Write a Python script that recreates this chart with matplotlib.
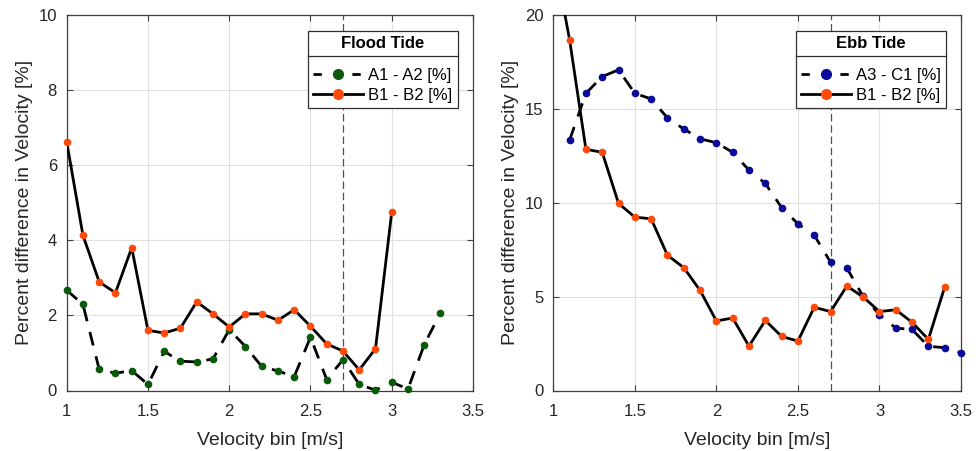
import numpy as np
import matplotlib
matplotlib.use("Agg")
import matplotlib.pyplot as plt
from matplotlib.lines import Line2D

plt.rcParams["font.family"] = ["Liberation Sans", "DejaVu Sans"]

# ---- data ----
flood_x_b = [1.0, 1.1, 1.2, 1.3, 1.4, 1.5, 1.6, 1.7, 1.8, 1.9, 2.0,
             2.1, 2.2, 2.3, 2.4, 2.5, 2.6, 2.7, 2.8, 2.9, 3.0]
flood_b1_b2 = [6.62, 4.13, 2.89, 2.60, 3.80, 1.60, 1.53, 1.66, 2.36, 2.04, 1.69,
               2.04, 2.04, 1.87, 2.15, 1.71, 1.24, 1.05, 0.55, 1.11, 4.75]

flood_x_a = [1.0, 1.1, 1.2, 1.3, 1.4, 1.5, 1.6, 1.7, 1.8, 1.9, 2.0, 2.1,
             2.2, 2.3, 2.4, 2.5, 2.6, 2.7, 2.8, 2.9, 3.0, 3.1, 3.2, 3.3]
flood_a1_a2 = [2.67, 2.29, 0.56, 0.46, 0.53, 0.16, 1.04, 0.78, 0.76, 0.84, 1.62, 1.17,
               0.64, 0.52, 0.37, 1.42, 0.29, 0.82, 0.16, 0.01, 0.22, 0.04, 1.22, 2.07]

ebb_x_b = [1.0, 1.1, 1.2, 1.3, 1.4, 1.5, 1.6, 1.7, 1.8, 1.9, 2.0, 2.1,
           2.2, 2.3, 2.4, 2.5, 2.6, 2.7, 2.8, 2.9, 3.0, 3.1, 3.2, 3.3, 3.4]
ebb_b1_b2 = [23.3, 18.67, 12.84, 12.68, 9.96, 9.23, 9.14, 7.20, 6.54, 5.33, 3.70, 3.86,
             2.36, 3.73, 2.88, 2.63, 4.43, 4.20, 5.56, 4.98, 4.20, 4.30, 3.63, 2.72, 5.51]

ebb_x_a = [1.1, 1.2, 1.3, 1.4, 1.5, 1.6, 1.7, 1.8, 1.9, 2.0, 2.1, 2.2, 2.3,
           2.4, 2.5, 2.6, 2.7, 2.8, 2.9, 3.0, 3.1, 3.2, 3.3, 3.4, 3.5]
ebb_a3_c1 = [13.33, 15.82, 16.71, 17.07, 15.82, 15.52, 14.51, 13.92, 13.40, 13.19, 12.68, 11.73, 11.02,
             9.74, 8.87, 8.27, 6.83, 6.52, 5.01, 4.04, 3.32, 3.25, 2.35, 2.28, 2.01]

threshold = 2.7

RED = "#ff4a0a"
GREEN = "#0a5a0a"
BLUE = "#0a0a9a"
AXC = "#404040"
TXT = "#262626"

fig = plt.figure(figsize=(9.76, 4.51), dpi=100)
axL = fig.add_axes([66.7 / 976, 60.5 / 451, 406.3 / 976, 375.7 / 451])
axR = fig.add_axes([553.3 / 976, 60.5 / 451, 407.7 / 976, 375.7 / 451])

panels = [
    (axL, flood_x_a, flood_a1_a2, GREEN, "A1 - A2 [%]", flood_x_b, flood_b1_b2,
     "Flood Tide", 10, [0, 2, 4, 6, 8, 10]),
    (axR, ebb_x_a, ebb_a3_c1, BLUE, "A3 - C1 [%]", ebb_x_b, ebb_b1_b2,
     "Ebb Tide", 20, [0, 5, 10, 15, 20]),
]


def dots(ax, x, y, c, ymax):
    # markers are not clipped at the box edge (as in MATLAB), but only in-range ones
    x = np.asarray(x)
    y = np.asarray(y)
    keep = y <= ymax
    ax.plot(x[keep], y[keep], ls="none", marker="o", ms=4.5, mfc=c, mec=c,
            clip_on=False, zorder=4)


for ax, xa, ya, ca, la, xb, yb, title, ymax, yt in panels:
    ax.plot(xa, ya, color="black", lw=2.0, dashes=(5, 4), zorder=3)
    ax.plot(xb, yb, color="black", lw=2.0, zorder=3)
    dots(ax, xa, ya, ca, ymax)
    dots(ax, xb, yb, RED, ymax)
    ax.axvline(threshold, color="#505050", lw=0.9, dashes=(6, 3), zorder=2)

    ax.set_xlim(1, 3.5)
    ax.set_ylim(0, ymax)
    ax.set_xticks([1, 1.5, 2, 2.5, 3, 3.5])
    ax.set_xticklabels(["1", "1.5", "2", "2.5", "3", "3.5"])
    ax.set_yticks(yt)
    ax.grid(True, color="#e0e0e0", lw=0.8)
    ax.set_axisbelow(True)
    for s in ax.spines.values():
        s.set_color(AXC)
        s.set_linewidth(0.9)
    ax.tick_params(direction="in", length=4, width=0.8, color=AXC,
                   labelsize=12, labelcolor=TXT, top=True, right=True)
    ax.tick_params(axis="x", pad=10)
    ax.tick_params(axis="y", pad=7)
    ax.set_xlabel("Velocity bin [m/s]", fontsize=14, color=TXT, labelpad=9)
    ax.set_ylabel("Percent difference in Velocity [%]", fontsize=14, color=TXT, labelpad=4)

    handles = [
        Line2D([], [], color="black", lw=2.0, dashes=(3, 4), marker="o",
               ms=7, mfc=ca, mec=ca),
        Line2D([], [], color="black", lw=2.0, marker="o", ms=7, mfc=RED, mec=RED),
    ]
    leg = ax.legend(handles, [la, "B1 - B2 [%]"], loc="upper right",
                    bbox_to_anchor=(0.962, 0.957),
                    title=title, fontsize=12, title_fontproperties={"weight": "bold", "size": 12},
                    fancybox=False, edgecolor="#303030", framealpha=1,
                    handlelength=3.0, borderpad=0.3,
                    labelspacing=0.3, handletextpad=0.3, borderaxespad=0)
    leg.get_frame().set_linewidth(0.9)
    leg._legend_box.sep = 12

fig.canvas.draw()
renderer = fig.canvas.get_renderer()
inv = fig.transFigure.inverted()
for ax in (axL, axR):
    leg = ax.get_legend()
    fb = leg.get_frame().get_window_extent(renderer)
    tb = leg.get_title().get_window_extent(renderer)
    ysep = tb.y0 - 5
    (x0, y0), (x1, y1) = inv.transform([(fb.x0, ysep), (fb.x1, ysep)])
    fig.add_artist(Line2D([x0, x1], [y0, y1], color="#303030", lw=0.9, zorder=10))

fig.savefig("out.png", dpi=100)
